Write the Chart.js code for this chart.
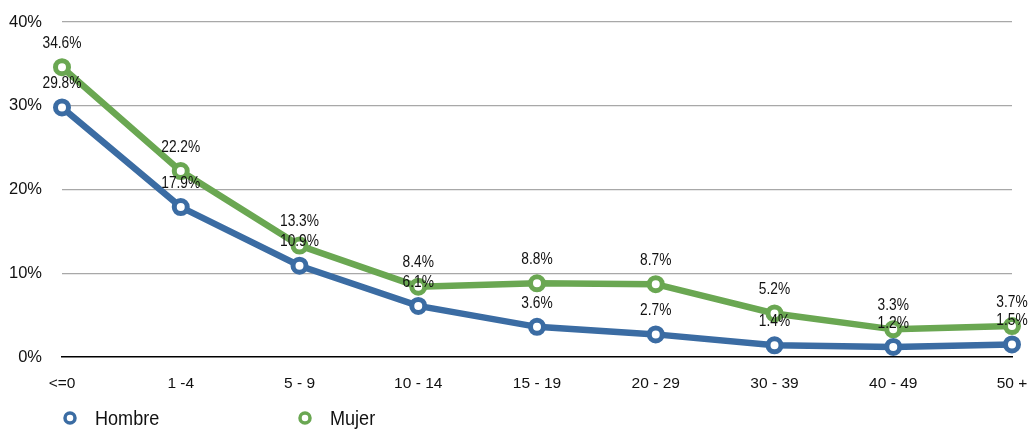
<!DOCTYPE html>
<html>
<head>
<meta charset="utf-8">
<script src="https://cdn.jsdelivr.net/npm/chart.js@4/dist/chart.umd.min.js"></script>
<style>
  html, body { margin: 0; padding: 0; background: #fff; }
  #wrap { width: 1028px; height: 430px; position: relative; }
</style>
</head>
<body>
<div id="wrap"><canvas id="myChart" width="1028" height="430"></canvas></div>
<script>
// datos
var categorias = ['<=0', '1 -4', '5 - 9', '10 - 14', '15 - 19', '20 - 29', '30 - 39', '40 - 49', '50 +'];
var hombre = [29.8, 17.9, 10.9, 6.1, 3.6, 2.7, 1.4, 1.2, 1.5];
var mujer = [34.6, 22.2, 13.3, 8.4, 8.8, 8.7, 5.2, 3.3, 3.7];
var ticksY = [0, 10, 20, 30, 40];

var azul = '#3b6ca3';
var verde = '#6aa752';
var fuente = "'Liberation Sans', Arial, sans-serif";

// texto estrecho (la fuente original es condensada)
function textoEstrecho(ctx, txt, x, y, escala) {
    ctx.save();
    ctx.translate(x, y);
    ctx.scale(escala, 1);
    ctx.fillText(txt, 0, 0);
    ctx.restore();
}

// etiquetas de valor sobre cada punto
var etiquetas = {
    id: 'etiquetas',
    afterDatasetsDraw: function (chart) {
        var ctx = chart.ctx;
        ctx.save();
        ctx.font = '17px ' + fuente;
        ctx.fillStyle = '#111';
        ctx.textAlign = 'center';
        ctx.textBaseline = 'middle';
        chart.data.datasets.forEach(function (ds, i) {
            chart.getDatasetMeta(i).data.forEach(function (pt, j) {
                textoEstrecho(ctx, ds.data[j].toFixed(1) + '%', pt.x, pt.y - 24, 0.81);
            });
        });
        ctx.restore();
    }
};

// leyenda abajo a la izquierda
var leyenda = {
    id: 'leyenda',
    afterDraw: function (chart) {
        var ctx = chart.ctx;
        var xs = [70, 305];
        var y = 418;
        ctx.save();
        chart.data.datasets.forEach(function (ds, i) {
            ctx.beginPath();
            ctx.arc(xs[i], y, 5, 0, Math.PI * 2);
            ctx.fillStyle = '#fff';
            ctx.fill();
            ctx.lineWidth = 3.5;
            ctx.strokeStyle = ds.borderColor;
            ctx.stroke();
            ctx.fillStyle = '#111';
            ctx.font = '21px ' + fuente;
            ctx.textAlign = 'left';
            ctx.textBaseline = 'middle';
            textoEstrecho(ctx, ds.label, xs[i] + 25, y + 1, 0.86);
        });
        ctx.restore();
    }
};

function serie(nombre, datos, color) {
    return {
        label: nombre,
        data: datos,
        borderColor: color,
        backgroundColor: '#fff',
        borderWidth: 6.5,
        pointRadius: 6.5,
        pointBorderWidth: 5,
        pointBackgroundColor: '#fff',
        pointBorderColor: color,
        tension: 0
    };
}

var ctx = document.getElementById('myChart').getContext('2d');
var config = {
    type: 'line',
    data: {
        labels: categorias,
        datasets: [serie('Hombre', hombre, azul), serie('Mujer', mujer, verde)]
    },
    options: {
        responsive: false,
        animation: false,
        layout: { autoPadding: false, padding: { left: 0, right: 16, top: 22, bottom: 38 } },
        plugins: { legend: { display: false }, tooltip: { enabled: false } },
        scales: {
            x: {
                offset: false,
                grid: { display: false, drawTicks: false },
                border: { color: '#000', width: 1.5 },
                ticks: { color: '#111', font: { family: fuente, size: 15.5 }, padding: 17, maxRotation: 0, autoSkip: false },
                afterFit: function (s) {
                    s.height = 35;
                    s.paddingLeft = 0;
                    s.paddingRight = 0;
                }
            },
            y: {
                min: 0,
                max: 40,
                afterBuildTicks: function (s) { s.ticks = ticksY.map(function (v) { return { value: v }; }); },
                grid: {
                    drawTicks: false,
                    color: function (c) { return c.tick && c.tick.value === 0 ? 'rgba(0,0,0,0)' : '#a8a8a8'; },
                    lineWidth: 1.2
                },
                border: { display: false },
                ticks: {
                    color: '#111',
                    font: { family: fuente, size: 16.5 },
                    padding: 20,
                    callback: function (v) { return v + '%'; }
                },
                afterFit: function (s) {
                    s.width = 62;
                    s.paddingTop = 0;
                    s.paddingBottom = 0;
                }
            }
        }
    },
    plugins: [etiquetas, leyenda]
};
var chart = new Chart(ctx, config);
</script>
</body>
</html>
